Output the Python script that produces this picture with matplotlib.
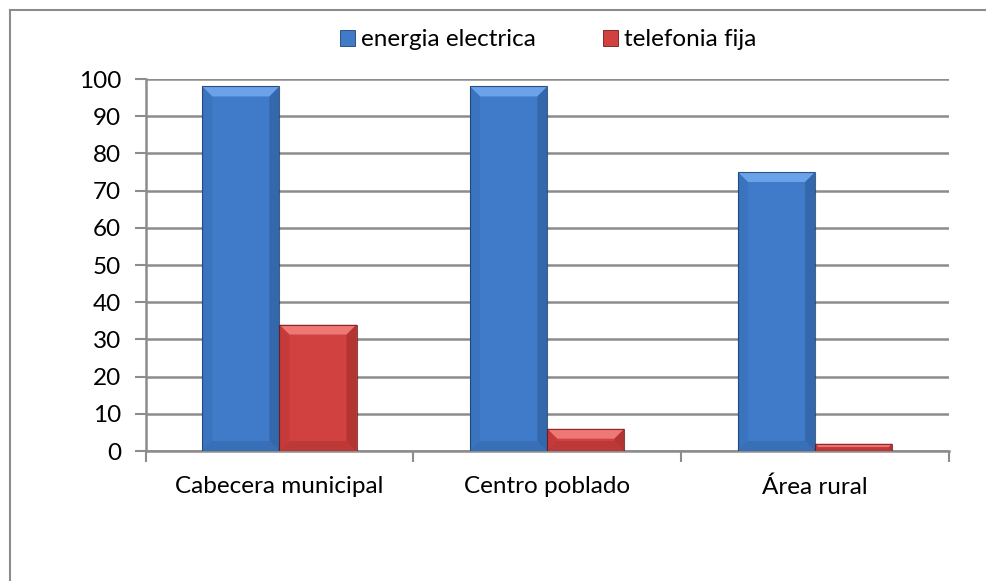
import matplotlib
matplotlib.use("Agg")
import matplotlib.pyplot as plt
from matplotlib.patches import Polygon, Rectangle
from matplotlib.lines import Line2D
import numpy as np

categories = ["Cabecera municipal", "Centro poblado", "Área rural"]
energia = [98, 98, 75]
telefonia = [34, 6, 2]
series_names = ["energia electrica", "telefonia fija"]
yticks = [0, 10, 20, 30, 40, 50, 60, 70, 80, 90, 100]

plt.rcParams['font.family'] = ['Lato', 'DejaVu Sans']

W, H = 987, 581
fig = plt.figure(figsize=(W / 100, H / 100), dpi=100)
fig.patch.set_facecolor("white")

# outer border (top and left visible, right/bottom cropped)
fig.add_artist(Line2D([10 / W, 10 / W], [0, 1 - 9.5 / H], transform=fig.transFigure,
                      color="#8c8c8c", lw=1.5))
fig.add_artist(Line2D([10 / W, 1], [1 - 9.5 / H, 1 - 9.5 / H], transform=fig.transFigure,
                      color="#8c8c8c", lw=1.5))

left, right = 145.5 / W, 949 / W
bottom, top = 1 - 451 / H, 1 - 79 / H
ax = fig.add_axes([left, bottom, right - left, top - bottom])

x = np.arange(len(categories))
bw = 0.288
blue = "#3f7bc8"
red = "#d0413f"
bars1 = ax.bar(x - bw / 2, energia, bw, color=blue, zorder=3, linewidth=0)
bars2 = ax.bar(x + bw / 2, telefonia, bw, color=red, zorder=3, linewidth=0)

FS = 17.5
ax.set_xlim(-0.5, len(categories) - 0.5)
ax.set_ylim(0, 100)
ax.set_yticks(yticks)
ax.set_yticklabels([str(v) for v in yticks], fontsize=FS)
ax.set_xticks(np.arange(len(categories) + 1) - 0.5, minor=False)
ax.set_xticklabels([])
ax.set_xticks(x, minor=True)
ax.set_xticklabels(categories, minor=True, fontsize=FS)
ax.tick_params(axis="x", which="minor", length=0, pad=18)
ax.tick_params(axis="x", which="major", length=8, width=1.5, color="#8c8c8c", direction="out")
ax.tick_params(axis="y", length=8, width=1.5, color="#8c8c8c", direction="out", pad=9.5)

for s in ["top", "right"]:
    ax.spines[s].set_visible(False)
for s in ["left", "bottom"]:
    ax.spines[s].set_color("#8c8c8c")
    ax.spines[s].set_linewidth(1.8)
ax.yaxis.grid(True, color="#8c8c8c", lw=1.8, zorder=0)
ax.set_axisbelow(True)

# bevel effect
fig.canvas.draw()
inv = ax.transData.inverted()

def add_bevel(bar, light, dark, darker):
    bb = bar.get_window_extent()
    x0, y0, x1, y1 = bb.x0, bb.y0, bb.x1, bb.y1
    b = min(10, (y1 - y0) / 2.2)
    def poly(pts, col, a=1.0):
        dpts = inv.transform(pts)
        ax.add_patch(Polygon(dpts, closed=True, facecolor=col, edgecolor="none",
                             alpha=a, zorder=4))
    # top bevel
    poly([(x0, y1), (x1, y1), (x1 - b, y1 - b), (x0 + b, y1 - b)], light, 0.85)
    # left bevel
    poly([(x0, y0), (x0, y1), (x0 + b, y1 - b), (x0 + b, y0 + b)], dark, 0.3)
    # right bevel
    poly([(x1, y0), (x1, y1), (x1 - b, y1 - b), (x1 - b, y0 + b)], darker, 0.3)
    # bottom bevel
    poly([(x0, y0), (x1, y0), (x1 - b, y0 + b), (x0 + b, y0 + b)], darker, 0.2)
    p0 = inv.transform([(x0, y0)])[0]
    p1 = inv.transform([(x1, y1)])[0]
    ax.add_patch(Rectangle(p0, p1[0] - p0[0], p1[1] - p0[1], facecolor="none",
                           edgecolor=darker, lw=0.8, alpha=0.8, zorder=5))

for bar in bars1:
    add_bevel(bar, "#74aaf0", "#2f64a8", "#1d3f6e")
for bar in bars2:
    add_bevel(bar, "#f48280", "#b02e2c", "#6e1a1a")

handles = [Rectangle((0, 0), 1, 1, facecolor=blue, edgecolor="#1d3f6e", lw=0.6),
           Rectangle((0, 0), 1, 1, facecolor=red, edgecolor="#6e1a1a", lw=0.6)]
fig.legend(handles, series_names, loc="center", bbox_to_anchor=(548 / W, 1 - 40 / H),
           ncol=2, frameon=False, fontsize=FS, handlelength=0.62, handleheight=0.62,
           handletextpad=0.25, columnspacing=2.75)

fig.savefig("out.png", dpi=100, facecolor="white")
